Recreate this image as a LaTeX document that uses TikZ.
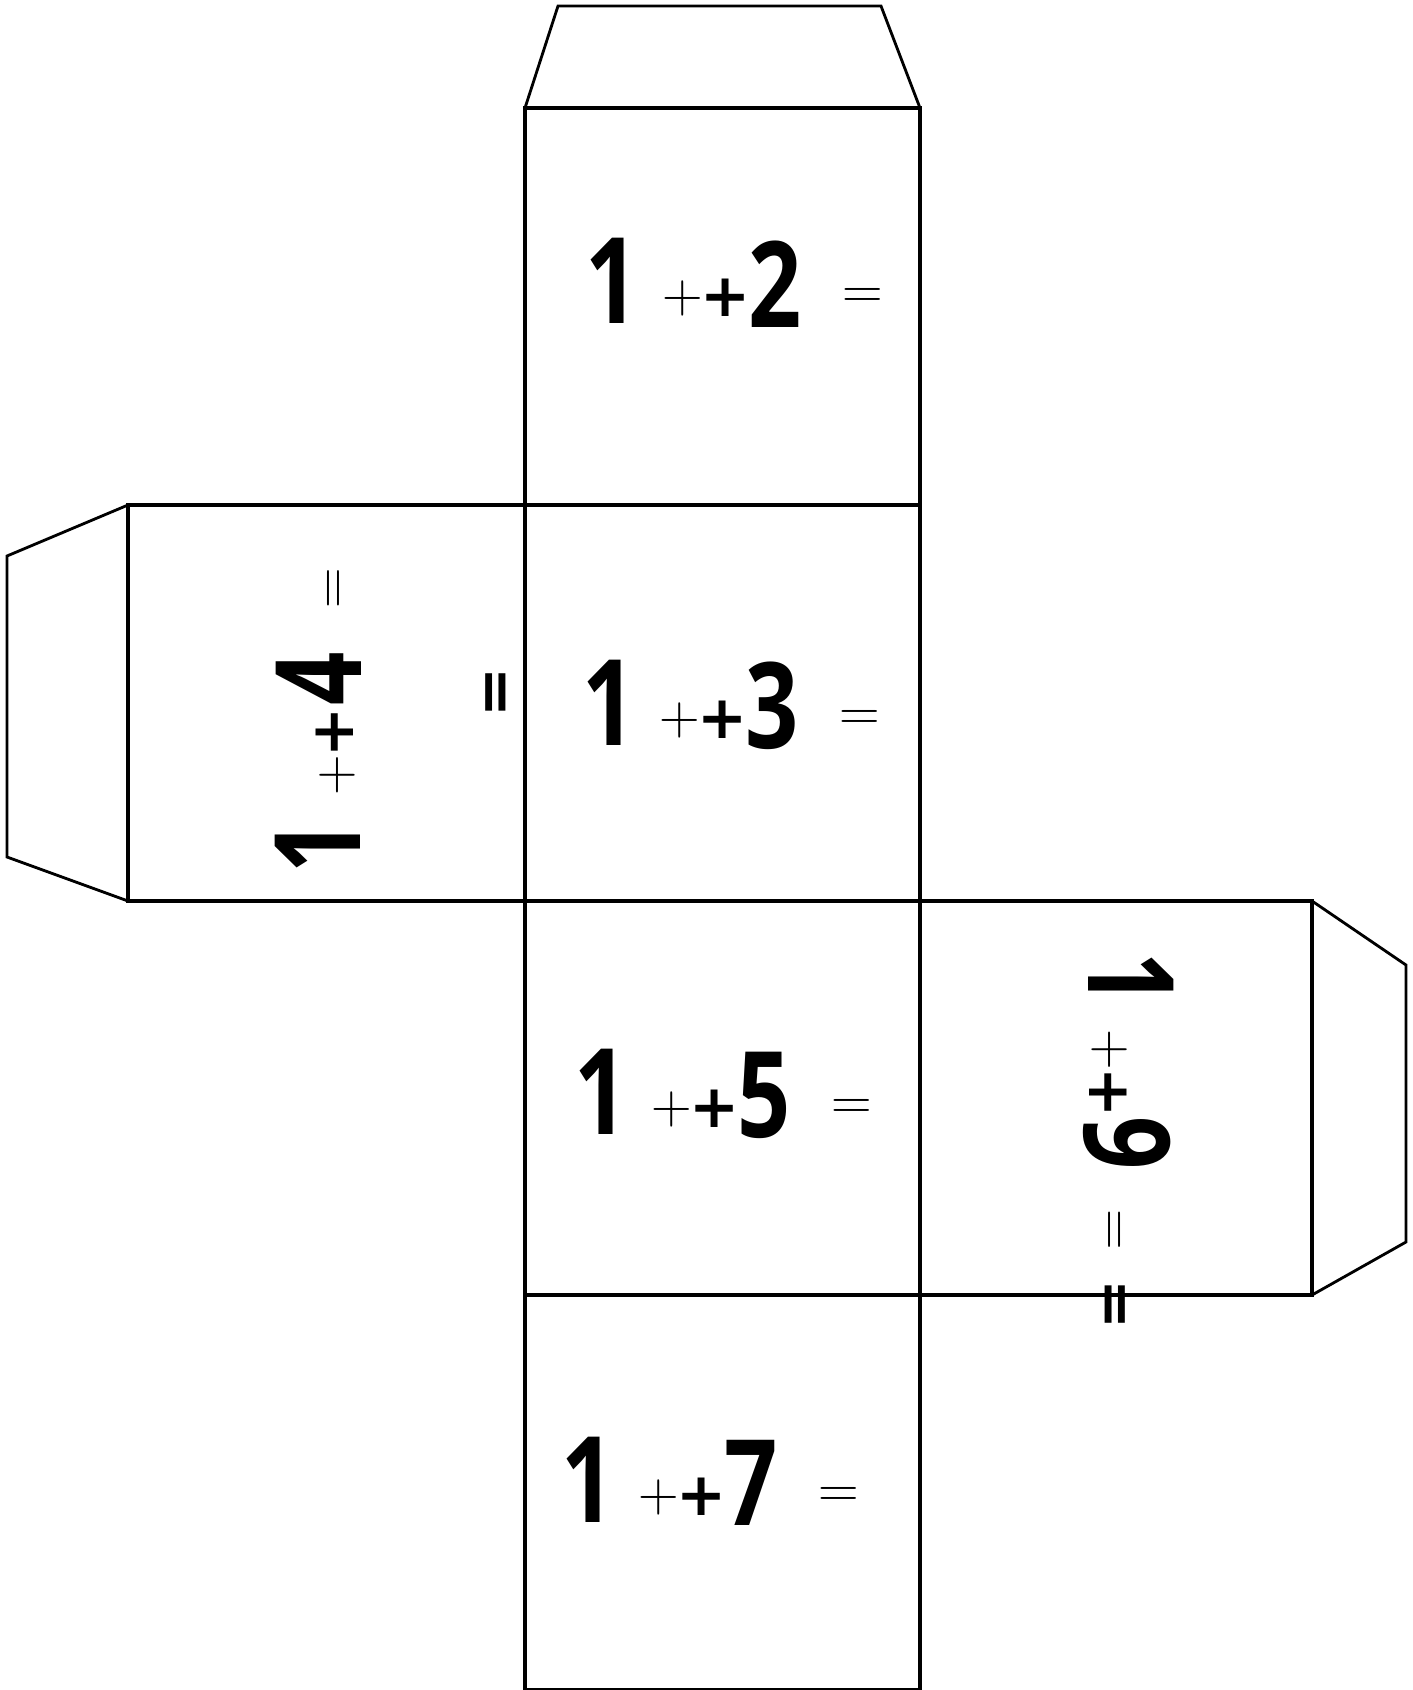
\documentclass[tikz,border=0pt]{standalone}
\usepackage{fontspec}
\usepackage{tikz}
\newfontfamily\digitfont{Open Sans}[FakeStretch=0.78]
\newfontfamily\opfont{DejaVu Sans}

\begin{document}
\begin{tikzpicture}[x=0.01cm, y=-0.01cm,
	face/.style={line width=0.9pt, line join=miter},
	tab/.style={line width=0.8pt},
	digit/.style={inner sep=0pt, font=\digitfont\bfseries\fontsize{34}{34}\selectfont},
	thinop/.style={inner sep=0pt, font=\fontsize{16}{16}\selectfont},
	boldop/.style={inner sep=0pt, font=\opfont\bfseries\fontsize{17}{17}\selectfont}]
	
	\useasboundingbox (0,0) rectangle (1413,1690);
	
	\draw [face] (525,108) rectangle (920,505);
	\draw [face] (525,505) rectangle (920,901);
	\draw [face] (525,901) rectangle (920,1295);
	\draw [face] (525,1295) rectangle (920,1690);
	\draw [face] (128,505) rectangle (525,901);
	\draw [face] (920,901) rectangle (1312,1295);
	
	\draw [tab] (525,108) -- (558,6) -- (881,6) -- (920,108);
	\draw [tab] (128,505) -- (7,556) -- (7,857) -- (128,901);
	\draw [tab] (1312,901) -- (1406,965) -- (1406,1242) -- (1312,1295);
	
	\foreach \d/\x/\y in {2/612/298, 3/609/720, 5/601/1109, 7/588/1497} {
		\node [digit] (one\d) at (\x,\y-17) {1};
		\node [thinop] (plusa\d) at (\x+71,\y) {+};
		\node [boldop] (plusb\d) at (\x+114,\y) {+};
		\node [digit] (num\d) at (\x+163,\y-14) {\d};
		\node [thinop] (eq\d) at (\x+251,\y) {=};
	}
	
	\node [digit, rotate=90] (one4) at (318,847) {1};
	\node [thinop, rotate=90] (plusa4) at (337,775) {+};
	\node [boldop, rotate=90] (plusb4) at (335,732) {+};
	\node [digit, rotate=90] (num4) at (319,679) {4};
	\node [thinop, rotate=90] (eq4) at (337,588) {=};
	\node [boldop, rotate=90] (eqb4) at (500,692) {=};
	
	\node [digit, rotate=-90] (one9) at (1131,979) {1};
	\node [thinop, rotate=-90] (plusa9) at (1110,1050) {+};
	\node [boldop, rotate=-90] (plusb9) at (1108,1093) {+};
	\node [digit, rotate=-90] (num9) at (1127,1143) {9};
	\node [thinop, rotate=-90] (eq9) at (1111,1230) {=};
	\node [boldop, rotate=-90] (eqb9) at (1111,1305) {=};
	\end{tikzpicture}
\end{document}
